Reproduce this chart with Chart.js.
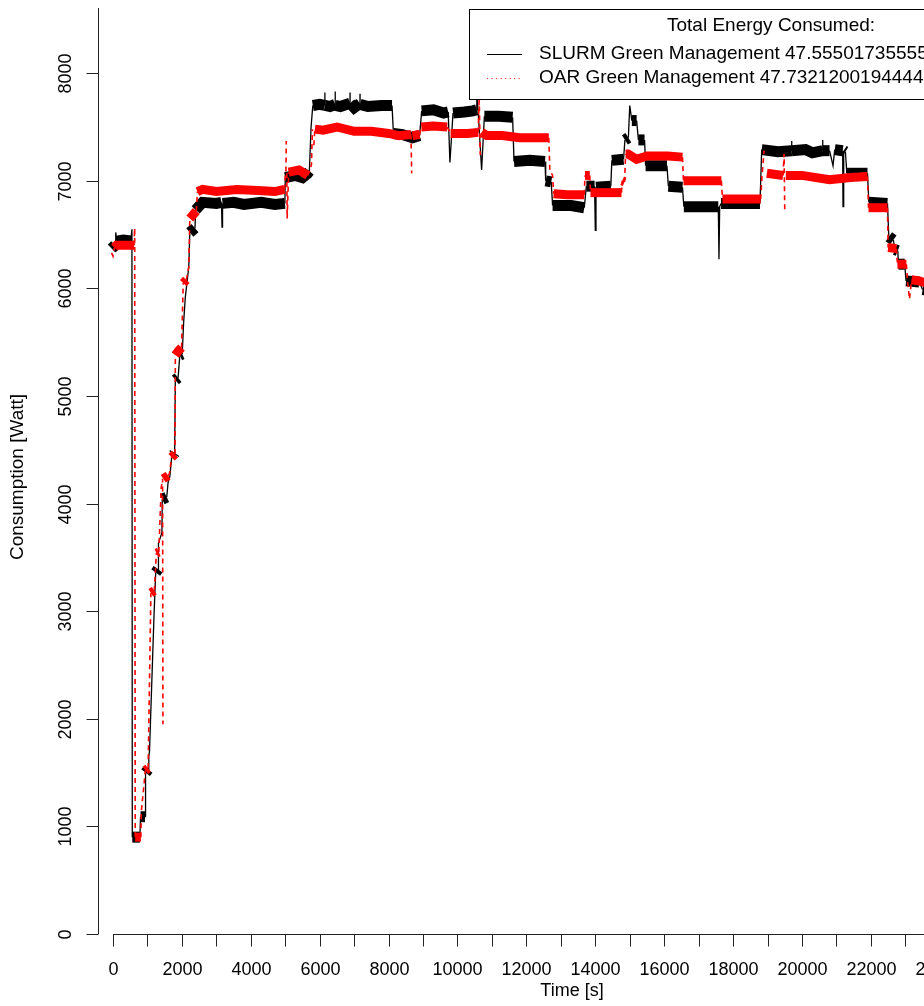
<!DOCTYPE html>
<html>
<head>
<meta charset="utf-8">
<script src="https://cdn.jsdelivr.net/npm/chart.js@4.4.1/dist/chart.umd.min.js"></script>
<style>
html,body{margin:0;padding:0;background:#fff;}
#wrap{width:924px;height:1006px;position:relative;}
</style>
</head>
<body>
<div id="wrap"><canvas id="c" width="924" height="1006"></canvas></div>
<script>
// ---- data (time in s, power in W) ----
const slurmT = [-40,60,80,110,300,520,550,560,780,800,930,945,1020,1040,1060,1190,1240,1310,1320,1420,1430,1560,1600,1650,1700,1770,1790,1810,1890,1940,2010,2050,2100,2200,2230,2380,2400,2600,3000,3150,3165,3180,3500,3800,4300,4700,4990,5000,5300,5500,5650,5700,5750,5800,6000,6149,6150,6152,6300,6449,6450,6452,6600,6879,6880,6882,7000,7169,7170,7172,7400,7800,8100,8140,8400,8700,8900,8960,9300,9600,9730,9780,9870,10200,10450,10558,10560,10600,10700,10780,11200,11600,11640,12100,12540,12560,12720,12760,13300,13680,13740,13980,14000,14020,14450,14480,14820,14860,14960,15000,15060,15200,15250,15430,15460,16080,16120,16530,16570,17570,17590,17610,17650,18780,18830,19300,19700,19701,19703,20100,20300,20600,20601,20603,20800,20900,20950,21180,21190,21210,21260,21300,21900,21940,22480,22520,22650,22700,22780,22800,22980,23020,23400,23500,23700];
const slurmW = [6370,6400,6520,6440,6450,6440,6550,900,900,1090,1090,1500,1530,1650,1700,2950,3360,3390,3630,3730,4040,4060,4200,4250,4420,4460,4470,5150,5170,5380,5390,5680,5920,6200,6520,6560,6730,6800,6790,6800,6570,6790,6800,6780,6800,6780,6790,7030,7050,7030,7070,7090,7500,7700,7710,7700,7820,7700,7690,7710,7830,7700,7690,7720,7820,7720,7680,7720,7810,7710,7690,7700,7700,7440,7430,7400,7420,7650,7660,7630,7640,7170,7630,7640,7650,7660,7800,7640,7100,7600,7600,7590,7180,7190,7180,7000,6990,6770,6770,6750,6950,6950,6540,6940,6950,7190,7200,7380,7400,7700,7560,7560,7380,7380,7140,7140,6950,6940,6760,6760,6270,6760,6790,6790,7290,7270,7280,7370,7280,7290,7260,7280,7380,7280,7280,7140,7290,7280,6760,7280,7270,7070,7070,6800,6790,6480,6450,6360,6350,6225,6225,6070,6060,5990,5980];

const oarT = [-40,0,40,100,610,630,645,810,820,940,1020,1100,1200,1260,1330,1400,1440,1450,1460,1600,1640,1700,1800,1810,1900,1990,2040,2130,2200,2230,2420,2450,2600,3000,3600,4200,4700,4980,5000,5020,5030,5045,5055,5100,5400,5650,5700,5760,5790,5830,5860,6100,6500,7000,7500,8000,8300,8650,8670,8690,8900,8950,9300,9700,9800,10300,10600,10630,10660,10700,10850,11300,11800,12200,12650,12680,12760,12790,13200,13680,13700,13840,13860,14400,14760,14780,14850,14880,14950,15200,15500,16100,16530,16560,17100,17660,17690,18800,18840,18900,18980,19450,19480,19500,19530,20000,20800,21400,21900,21930,22480,22500,22740,22770,23030,23060,23120,23180,23400,23700];
const oarW = [6330,6300,6380,6400,6400,6560,900,900,1130,1520,1540,3170,3190,3540,3550,4150,4230,1950,4230,4260,4280,4430,4460,5380,5420,5450,6050,6080,6200,6650,6720,6900,6920,6900,6920,6910,6900,6920,7050,7070,7370,7070,6650,7080,7100,7050,7080,7150,7480,7330,7480,7470,7500,7460,7460,7440,7420,7430,7070,7420,7430,7500,7510,7500,7440,7440,7450,7780,7240,7450,7420,7420,7400,7400,7400,7100,7050,6880,6870,6870,7050,7050,6890,6890,6890,7000,6990,7250,7250,7200,7230,7230,7220,7000,7000,7000,6830,6830,7050,7280,7070,7050,7250,6700,7050,7050,7010,7030,7040,6750,6750,6380,6370,6225,6225,6080,5900,6080,6070,6040];

const xTicks = [0,1000,2000,3000,4000,5000,6000,7000,8000,9000,10000,11000,12000,13000,14000,15000,16000,17000,18000,19000,20000,21000,22000,23000,24000];
const xTickLabels = ['0','','2000','','4000','','6000','','8000','','10000','','12000','','14000','','16000','','18000','','20000','','22000','','24000'];
const yTicks = [0,1000,2000,3000,4000,5000,6000,7000,8000];
const yTickLabels = ['0','1000','2000','3000','4000','5000','6000','7000','8000'];

const xLabel = 'Time [s]';
const yLabel = 'Consumption [Watt]';
const legendTitle = 'Total Energy Consumed:';
const seriesNames = ['SLURM Green Management 47.5550173555556','OAR Green Management 47.7321200194444'];

// ---- chart ----
const FONT = '"Liberation Sans", Arial, Helvetica, sans-serif';
function steep(ctx){
  const dx = Math.abs(ctx.p1.x - ctx.p0.x), dy = Math.abs(ctx.p1.y - ctx.p0.y);
  return dy > 1.5*dx && dy > 1.5;
}
// a return stroke of a spike already covered by the incoming stroke
function spikeReturn(ctx, W){
  const i = ctx.p0DataIndex;
  if (i < 1 || i >= W.length - 1) return false;
  const prev = W[i-1], cur = W[i], next = W[i+1];
  return Math.min(prev,cur) <= next && next <= Math.max(prev,cur) && Math.abs(cur-prev) > 200;
}
const toPts = (T,W) => T.map((t,i)=>({x:t,y:W[i]}));
const BW = 11, RW = 9;

const axesPlugin = {
  id:'rAxes',
  afterDraw(chart){
    const c = chart.ctx, xs = chart.scales.x, ys = chart.scales.y, a = chart.chartArea;
    c.save();
    c.strokeStyle = '#222'; c.lineWidth = 1; c.fillStyle = '#000';
    // y axis
    const yx = Math.round(a.left) + 0.5;
    c.beginPath(); c.moveTo(yx, a.top); c.lineTo(yx, a.bottom); c.stroke();
    c.font = '18px ' + FONT; c.textAlign = 'center'; c.textBaseline = 'middle';
    yTicks.forEach((v,i)=>{
      const py = Math.round(ys.getPixelForValue(v)) + 0.5;
      c.beginPath(); c.moveTo(yx - 12, py); c.lineTo(yx, py); c.stroke();
      c.save(); c.translate(65, py); c.rotate(-Math.PI/2); c.fillText(yTickLabels[i], 0, 1); c.restore();
    });
    // x axis
    const xy = Math.round(a.bottom) + 0.5;
    const x0 = xs.getPixelForValue(xTicks[0]);
    c.beginPath(); c.moveTo(x0, xy); c.lineTo(xs.getPixelForValue(xTicks[xTicks.length-1]), xy); c.stroke();
    xTicks.forEach((v,i)=>{
      const px = Math.round(xs.getPixelForValue(v)) + 0.5;
      c.beginPath(); c.moveTo(px, xy); c.lineTo(px, xy + 12); c.stroke();
      if (xTickLabels[i]) c.fillText(xTickLabels[i], px, 970);
    });
    // titles
    c.fillText(xLabel, 572, 991);
    c.save(); c.translate(18, 477); c.rotate(-Math.PI/2); c.font = '19px ' + FONT; c.fillText(yLabel, 0, 0); c.restore();
    // legend
    c.fillStyle = '#fff';
    c.fillRect(470, 10, 470, 90);
    c.strokeStyle = '#000';
    c.strokeRect(469.5, 9.5, 470, 90);
    c.fillStyle = '#000';
    c.font = '19px ' + FONT; c.textAlign = 'left';
    c.fillText(legendTitle, 667, 26);
    c.fillText(seriesNames[0], 539, 54);
    c.fillText(seriesNames[1], 539, 78);
    c.beginPath(); c.moveTo(487, 54.5); c.lineTo(522, 54.5); c.strokeStyle = '#000'; c.stroke();
    c.beginPath(); c.setLineDash([1.2,3.3]); c.moveTo(487, 78.5); c.lineTo(522, 78.5); c.strokeStyle = '#ff3030'; c.stroke();
    c.restore();
  }
};

new Chart(document.getElementById('c'), {
  type:'line',
  data:{
    datasets:[
      {
        label: seriesNames[0], data: toPts(slurmT, slurmW),
        borderColor:'#000000', borderWidth:BW, pointRadius:0, tension:0, order:2,
        borderJoinStyle:'miter', borderCapStyle:'butt',
        segment:{ borderWidth: ctx => steep(ctx) ? 1.3 : BW }
      },
      {
        label: seriesNames[1], data: toPts(oarT, oarW),
        borderColor:'#ff0000', borderWidth:RW, pointRadius:0, tension:0, order:1,
        borderJoinStyle:'miter', borderCapStyle:'butt', borderDash:[5,4],
        segment:{
          borderWidth: ctx => steep(ctx) ? 1.6 : RW,
          borderDash: ctx => steep(ctx) ? [5,4] : [],
          borderColor: ctx => (steep(ctx) && spikeReturn(ctx, oarW)) ? 'rgba(0,0,0,0)' : undefined
        }
      }
    ]
  },
  options:{
    responsive:false, animation:false, events:[],
    layout:{ padding:{ left:98, top:8, right:0, bottom:72 } },
    plugins:{ legend:{display:false}, tooltip:{enabled:false} },
    scales:{
      x:{ type:'linear', display:false, min:-435, max:23541 },
      y:{ type:'linear', display:false, min:0, max:8606 }
    }
  },
  plugins:[axesPlugin]
});
</script>
</body>
</html>
